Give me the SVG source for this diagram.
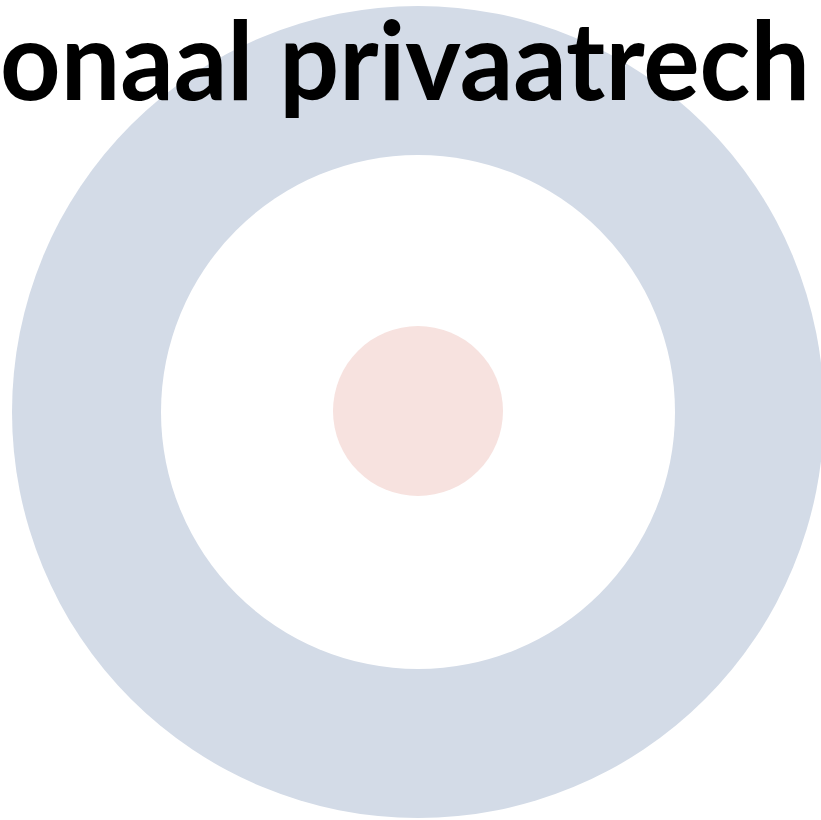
<svg xmlns="http://www.w3.org/2000/svg" width="821" height="820" viewBox="0 0 821 820">
  <style>
    .title { font-family: Lato, "Open Sans", "Liberation Sans", sans-serif; font-weight: 700; font-size: 110px; fill: #000000; }
  </style>
  <rect x="0" y="0" width="821" height="820" fill="#ffffff"/>
  <g id="rings">
    <circle id="outer" cx="418" cy="412" r="406" fill="#D3DBE7"/>
    <circle id="inner" cx="418" cy="412" r="257" fill="#ffffff"/>
    <circle id="center" cx="418" cy="411" r="85" fill="#F7E2DF"/>
  </g>
  <text id="title" class="title" x="0" y="100" textLength="810" lengthAdjust="spacingAndGlyphs">onaal privaatrech</text>
</svg>
